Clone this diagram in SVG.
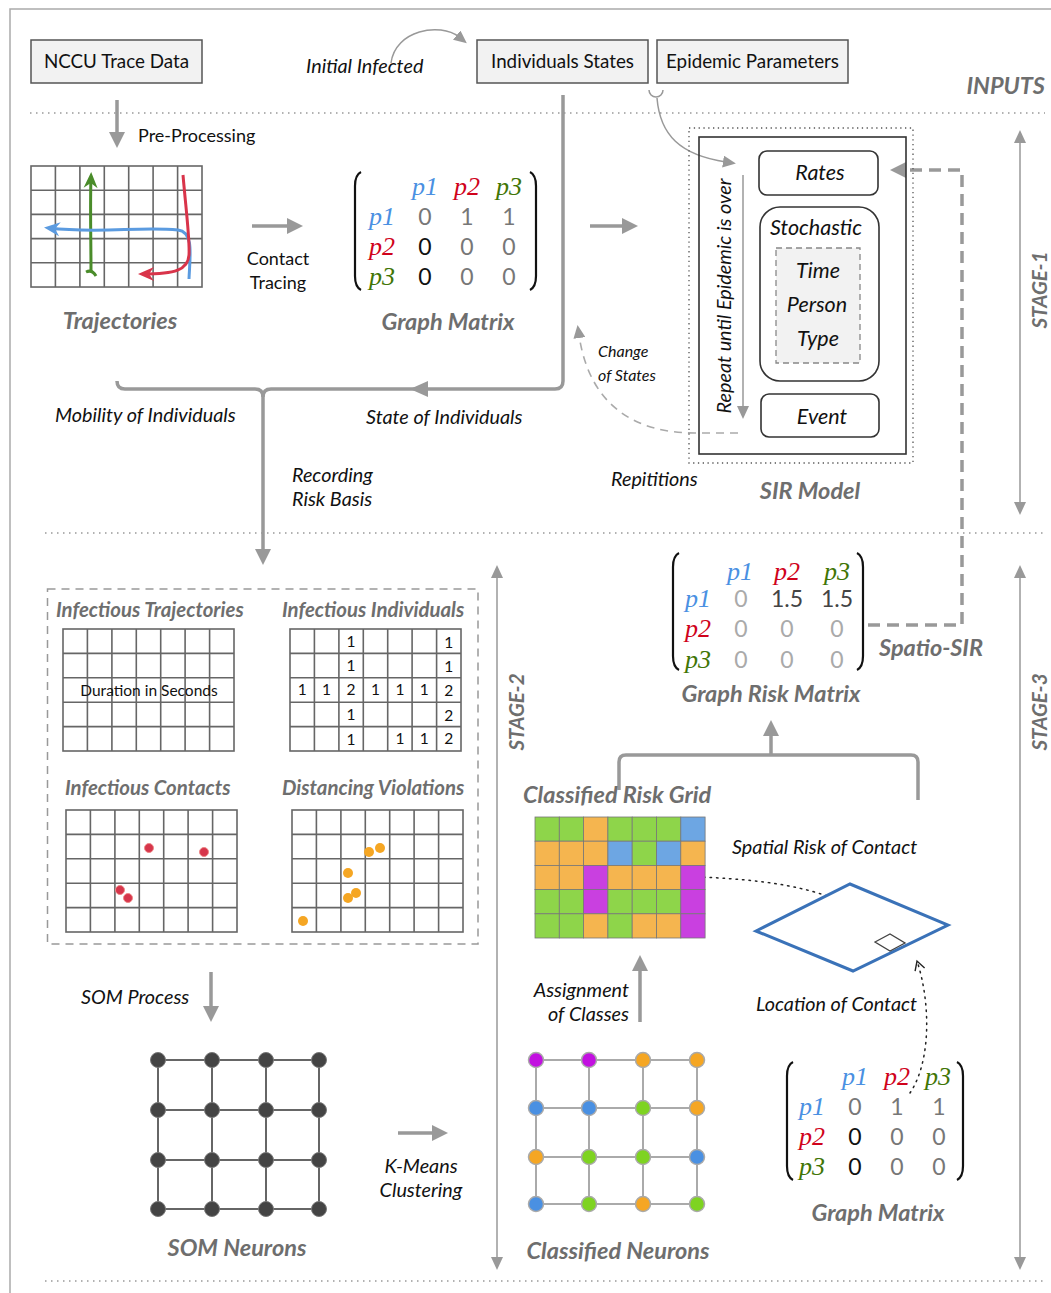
<svg xmlns="http://www.w3.org/2000/svg" width="1051" height="1293" viewBox="0 0 1051 1293">
<style>
text{font-family:Lato,"DejaVu Sans",sans-serif;fill:#111}
.box{fill:#f2f2f2;stroke:#555;stroke-width:1.5}
.bl{font-size:18.8px;text-anchor:middle}
.lbl{font-size:18px}
.it{font-style:italic;font-size:19.8px}
.sm{font-size:16px}
.ttl{font-weight:bold;font-style:italic;fill:#6e6e6e;font-size:23.5px}
.sub{font-size:20.4px}
.stg{font-size:20.5px;text-anchor:middle}
.sir{font-size:21.5px;text-anchor:middle}
.grid{fill:none;stroke:#666;stroke-width:1.6}
.ga{stroke:#999;stroke-width:3.5;fill:none}
.thin{stroke:#999;stroke-width:1.5;fill:none}
.pv{font-family:"Liberation Serif",serif;font-style:italic;font-size:26px;text-anchor:middle}
.num{font-size:23px;text-anchor:middle}
.c1{fill:#4a90e2}.c2{fill:#d0021b}.c3{fill:#417505}
.k7{fill:#777}.ka{fill:#aaa}.k4{fill:#444}
.sep{stroke:#999;stroke-width:1.3;stroke-dasharray:1.5 4.5;fill:none}
.par{fill:none;stroke:#111;stroke-width:2.2}
.G{fill:#8ed54a}.O{fill:#f5b54f}.B{fill:#6da6e3}.M{fill:#c940e0}
.cell rect{stroke:#777;stroke-width:0.8;width:24.3px;height:24.2px}
.dot{stroke:#222;stroke-width:1.5;fill:none;stroke-dasharray:1.5 5;stroke-linecap:round}
.nn{stroke:#666;stroke-width:2;fill:none}
.cn{stroke:#aaa;stroke-width:2;fill:none}
.g15{font-size:15.5px;text-anchor:middle}
</style>
<defs>
<marker id="ga" markerUnits="userSpaceOnUse" markerWidth="16" markerHeight="16" viewBox="0 0 16 16" refX="4" refY="8" orient="auto"><path d="M0 0L16 8L0 16z" fill="#999"/></marker>
<marker id="ta" markerUnits="userSpaceOnUse" markerWidth="13" markerHeight="12" viewBox="0 0 13 12" refX="3" refY="6" orient="auto-start-reverse"><path d="M0 0L13 6L0 12z" fill="#999"/></marker>
<marker id="oa" markerUnits="userSpaceOnUse" markerWidth="12" markerHeight="12" viewBox="0 0 12 12" refX="10" refY="6" orient="auto"><path d="M1 1L10 6L1 11" fill="none" stroke="#222" stroke-width="1.4"/></marker>
<marker id="mg" markerUnits="userSpaceOnUse" markerWidth="16" markerHeight="16" viewBox="0 0 16 16" refX="11" refY="8" orient="auto"><path d="M0 1L16 8L0 15L5 8z" fill="#4a8c2a"/></marker>
<marker id="mb" markerUnits="userSpaceOnUse" markerWidth="16" markerHeight="16" viewBox="0 0 16 16" refX="11" refY="8" orient="auto"><path d="M0 1L16 8L0 15L5 8z" fill="#5b9be0"/></marker>
<marker id="mr" markerUnits="userSpaceOnUse" markerWidth="16" markerHeight="16" viewBox="0 0 16 16" refX="11" refY="8" orient="auto"><path d="M0 1L16 8L0 15L5 8z" fill="#d9344a"/></marker>
<g id="grid" class="grid"><rect width="171" height="122"/><path d="M24.4 0V122M48.9 0V122M73.3 0V122M97.7 0V122M122.1 0V122M146.6 0V122M0 24.4H171M0 48.8H171M0 73.2H171M0 97.6H171"/></g>
</defs>
<rect width="1051" height="1293" fill="#fff"/>
<path d="M10 1293V9H1051" fill="none" stroke="#aaa" stroke-width="1.5"/>
<path class="sep" d="M30 113H1045M45 533H1045M45 1281H1045"/>

<g id="connectors">
<path class="ga" d="M117 100V136" marker-end="url(#ga)"/>
<path class="ga" d="M252 226H291" marker-end="url(#ga)"/>
<path class="ga" d="M590 226H626" marker-end="url(#ga)"/>
<path class="thin" d="M391 63C395 30 440 22 459 37" marker-end="url(#ta)"/>
<path class="thin" d="M649 90A7 7 0 0 0 663 90"/>
<path class="thin" d="M657 98C660 135 680 155 726 162" marker-end="url(#ta)"/>
<path class="ga" d="M117 381Q117 389 125 389H255Q263 389 263 397V553" marker-end="url(#ga)"/>
<path class="ga" d="M563 95V381Q563 389 555 389H271Q263 389 263 397"/>
<path d="M410 389L428 381L428 397z" fill="#999"/>
<path d="M738 433H695C640 433 590 410 579 335" fill="none" stroke="#aaa" stroke-width="1.6" stroke-dasharray="8 6" marker-end="url(#ta)"/>
<path class="thin" d="M743 175V409" marker-end="url(#ta)"/>
<path d="M868 625H962V170H902" fill="none" stroke="#999" stroke-width="3.5" stroke-dasharray="12 7" marker-end="url(#ga)"/>
<path class="thin" d="M1020 140V505" marker-start="url(#ta)" marker-end="url(#ta)"/>
<path class="thin" d="M497 575V1260" marker-start="url(#ta)" marker-end="url(#ta)"/>
<path class="thin" d="M1020 575V1260" marker-start="url(#ta)" marker-end="url(#ta)"/>
<path class="ga" d="M619 790V762Q619 755 626 755H911Q918 755 918 762V800"/>
<path class="ga" d="M771 755V732" marker-end="url(#ga)"/>
<path class="ga" d="M640 1022V967" marker-end="url(#ga)"/>
<path class="ga" d="M211 972V1010" marker-end="url(#ga)"/>
<path class="ga" d="M398 1133H436" marker-end="url(#ga)"/>
<path class="dot" d="M697 877C790 880 845 895 874 923" marker-end="url(#oa)"/>
<path class="dot" d="M910 1093C932 1060 930 1000 917 961" marker-end="url(#oa)"/>
</g>

<g id="inputs">
<text class="it" x="306" y="73">Initial Infected</text>
<text class="ttl" x="1045" y="94" text-anchor="end">INPUTS</text>
</g>
<g id="nccu-trace-data"><rect class="box" x="31" y="40" width="171" height="43"/><text class="bl" x="116.5" y="68">NCCU Trace Data</text></g>
<g id="individuals-states"><rect class="box" x="477" y="40" width="171" height="43"/><text class="bl" x="562.5" y="68">Individuals States</text></g>
<g id="epidemic-parameters"><rect class="box" x="657" y="40" width="191" height="43"/><text class="bl" x="752.5" y="68">Epidemic Parameters</text></g>
<text class="lbl" x="138" y="142">Pre-Processing</text>

<g id="trajectories">
<use href="#grid" transform="translate(31,166) scale(1,0.992)"/>
<path d="M91 271C91 240 90 205 91 177" fill="none" stroke="#4a8c2a" stroke-width="3" marker-end="url(#mg)"/>
<path d="M86 272Q92 269 96 276" fill="none" stroke="#4a8c2a" stroke-width="3"/>
<path d="M189 279C190 255 194 232 178 230C140 226 100 234 49 228" fill="none" stroke="#5b9be0" stroke-width="3" marker-end="url(#mb)"/>
<path d="M183 175C186 210 190 240 189 255C188 270 175 274 143 274" fill="none" stroke="#d9344a" stroke-width="3" marker-end="url(#mr)"/>
<text class="ttl" x="120" y="329" text-anchor="middle">Trajectories</text>
</g>
<text class="lbl" x="278" y="265" text-anchor="middle">Contact</text>
<text class="lbl" x="278" y="289" text-anchor="middle">Tracing</text>

<g id="graph-matrix-top">
<path class="par" d="M361 172Q355 175 355 186V276Q355 287 361 290"/>
<path class="par" d="M530 172Q536 175 536 186V276Q536 287 530 290"/>
<text class="pv c1" x="425" y="195">p1</text><text class="pv c2" x="467" y="195">p2</text><text class="pv c3" x="509" y="195">p3</text>
<text class="pv c1" x="382" y="225">p1</text><text class="pv c2" x="382" y="255">p2</text><text class="pv c3" x="382" y="285">p3</text>
<text class="num k7" x="425" y="225">0</text><text class="num k7" x="467" y="225">1</text><text class="num k7" x="509" y="225">1</text>
<text class="num" x="425" y="255">0</text><text class="num k7" x="467" y="255">0</text><text class="num k7" x="509" y="255">0</text>
<text class="num" x="425" y="285">0</text><text class="num k7" x="467" y="285">0</text><text class="num k7" x="509" y="285">0</text>
<text class="ttl" x="448" y="330" text-anchor="middle">Graph Matrix</text>
</g>

<text class="it" x="55" y="422">Mobility of Individuals</text>
<text class="it" x="366" y="424">State of Individuals</text>
<text class="it" x="292" y="482">Recording</text>
<text class="it" x="292" y="506">Risk Basis</text>
<text class="it sm" x="598" y="357">Change</text>
<text class="it sm" x="598" y="381">of States</text>
<text class="it" x="611" y="486">Repititions</text>

<g id="sir-model">
<rect x="689" y="128" width="224" height="335" fill="none" stroke="#555" stroke-width="1.3" stroke-dasharray="1.3 3.5"/>
<rect x="699" y="137" width="207" height="317" fill="none" stroke="#333" stroke-width="1.6"/>
<text class="it" transform="translate(731,296) rotate(-90)" text-anchor="middle">Repeat until Epidemic is over</text>
<g id="rates"><rect x="759" y="151" width="119" height="44" rx="8" fill="#fff" stroke="#333" stroke-width="1.6"/><text class="it sir" x="820" y="180">Rates</text></g>
<g id="stochastic"><rect x="760" y="207" width="119" height="174" rx="20" fill="#fff" stroke="#333" stroke-width="1.6"/><text class="it sir" x="816" y="235">Stochastic</text>
<rect x="776" y="248" width="84" height="115" fill="#f2f2f2" stroke="#888" stroke-width="1.3" stroke-dasharray="6 4"/>
<text class="it sir" x="818" y="278">Time</text>
<text class="it sir" x="817" y="312">Person</text>
<text class="it sir" x="818" y="346">Type</text></g>
<g id="event"><rect x="761" y="394" width="118" height="43" rx="8" fill="#fff" stroke="#333" stroke-width="1.6"/><text class="it sir" x="822" y="424">Event</text></g>
<text class="ttl" x="810" y="499" text-anchor="middle">SIR Model</text>
</g>
<text class="ttl stg" transform="translate(1047,290) rotate(-90)">STAGE-1</text>
<text class="ttl stg" transform="translate(524,712) rotate(-90)">STAGE-2</text>
<text class="ttl stg" transform="translate(1047,712) rotate(-90)">STAGE-3</text>

<g id="risk-basis">
<rect x="47.5" y="589" width="430.5" height="355" fill="none" stroke="#999" stroke-width="1.5" stroke-dasharray="8 6"/>
<g id="infectious-trajectories">
<text class="ttl sub" x="56" y="617">Infectious Trajectories</text>
<use href="#grid" transform="translate(63,629)"/>
<text x="149" y="696" class="g15">Duration in Seconds</text>
</g>
<g id="infectious-individuals">
<text class="ttl sub" x="282" y="617">Infectious Individuals</text>
<use href="#grid" transform="translate(290,629)"/>
<g class="g15">
<text x="351.1" y="647">1</text><text x="448.8" y="648">1</text>
<text x="351.1" y="671">1</text><text x="448.8" y="672">1</text>
<text x="302.2" y="695">1</text><text x="326.6" y="695">1</text><text x="351.1" y="695">2</text><text x="375.5" y="695">1</text><text x="399.9" y="695">1</text><text x="424.3" y="695">1</text><text x="448.8" y="696">2</text>
<text x="351.1" y="720">1</text><text x="448.8" y="721">2</text>
<text x="351.1" y="745">1</text><text x="399.9" y="744">1</text><text x="424.3" y="744">1</text><text x="448.8" y="744">2</text>
</g>
</g>
<g id="infectious-contacts">
<text class="ttl sub" x="65" y="795">Infectious Contacts</text>
<use href="#grid" transform="translate(66,810)"/>
<g fill="#d6354b" stroke="#e88" stroke-width="1">
<circle cx="149" cy="848" r="4.5"/><circle cx="204" cy="852" r="4.5"/><circle cx="120" cy="890" r="4.5"/><circle cx="128" cy="898" r="4.5"/>
</g>
</g>
<g id="distancing-violations">
<text class="ttl sub" x="282" y="795">Distancing Violations</text>
<use href="#grid" transform="translate(292,810)"/>
<g fill="#f5a623">
<circle cx="369" cy="852" r="5"/><circle cx="380" cy="848" r="5"/><circle cx="348" cy="873" r="5"/><circle cx="356" cy="893" r="5"/><circle cx="348" cy="898" r="5"/><circle cx="303" cy="921" r="5"/>
</g>
</g>
</g>

<g id="graph-risk-matrix">
<path class="par" d="M679 553Q673 556 673 567V656Q673 667 679 670"/>
<path class="par" d="M857 553Q863 556 863 567V656Q863 667 857 670"/>
<text class="pv c1" x="740" y="580">p1</text><text class="pv c2" x="787" y="580">p2</text><text class="pv c3" x="837" y="580">p3</text>
<text class="pv c1" x="698" y="607">p1</text><text class="pv c2" x="698" y="637">p2</text><text class="pv c3" x="698" y="668">p3</text>
<text class="num ka" x="741" y="607">0</text><text class="num k4" x="787" y="607">1.5</text><text class="num k4" x="837" y="607">1.5</text>
<text class="num ka" x="741" y="637">0</text><text class="num ka" x="787" y="637">0</text><text class="num ka" x="837" y="637">0</text>
<text class="num ka" x="741" y="668">0</text><text class="num ka" x="787" y="668">0</text><text class="num ka" x="837" y="668">0</text>
<text class="ttl" x="771" y="702" text-anchor="middle">Graph Risk Matrix</text>
</g>
<text class="ttl" x="879" y="656">Spatio-SIR</text>

<g id="classified-risk-grid">
<text class="ttl" x="523" y="803">Classified Risk Grid</text>
<g class="cell">
<rect class="G" x="535" y="817"/><rect class="G" x="559.3" y="817"/><rect class="O" x="583.6" y="817"/><rect class="G" x="607.9" y="817"/><rect class="G" x="632.2" y="817"/><rect class="G" x="656.5" y="817"/><rect class="B" x="680.8" y="817"/>
<rect class="O" x="535" y="841.2"/><rect class="O" x="559.3" y="841.2"/><rect class="O" x="583.6" y="841.2"/><rect class="B" x="607.9" y="841.2"/><rect class="G" x="632.2" y="841.2"/><rect class="B" x="656.5" y="841.2"/><rect class="O" x="680.8" y="841.2"/>
<rect class="O" x="535" y="865.4"/><rect class="O" x="559.3" y="865.4"/><rect class="M" x="583.6" y="865.4"/><rect class="O" x="607.9" y="865.4"/><rect class="O" x="632.2" y="865.4"/><rect class="O" x="656.5" y="865.4"/><rect class="M" x="680.8" y="865.4"/>
<rect class="G" x="535" y="889.6"/><rect class="G" x="559.3" y="889.6"/><rect class="M" x="583.6" y="889.6"/><rect class="G" x="607.9" y="889.6"/><rect class="G" x="632.2" y="889.6"/><rect class="G" x="656.5" y="889.6"/><rect class="M" x="680.8" y="889.6"/>
<rect class="G" x="535" y="913.8"/><rect class="G" x="559.3" y="913.8"/><rect class="O" x="583.6" y="913.8"/><rect class="G" x="607.9" y="913.8"/><rect class="O" x="632.2" y="913.8"/><rect class="O" x="656.5" y="913.8"/><rect class="M" x="680.8" y="913.8"/>
</g>
</g>
<text class="it" x="732" y="854">Spatial Risk of Contact</text>

<g id="location-of-contact">
<polygon points="756,931 850,884 948,925 853,971" fill="#fff" stroke="#3a72b8" stroke-width="3"/>
<polygon points="875,942 890,934 905,943 890,951" fill="#fff" stroke="#444" stroke-width="1.3"/>
<text class="it" x="756" y="1011">Location of Contact</text>
</g>
<text class="it" x="629" y="997" text-anchor="end">Assignment</text>
<text class="it" x="629" y="1021" text-anchor="end">of Classes</text>
<text class="it" x="81" y="1004">SOM Process</text>
<text class="it" x="421" y="1173" text-anchor="middle">K-Means</text>
<text class="it" x="421" y="1197" text-anchor="middle">Clustering</text>

<g id="som-neurons">
<path class="nn" d="M158 1060H319M158 1110H319M158 1160H319M158 1209H319M158 1060V1209M212 1060V1209M266 1060V1209M319 1060V1209"/>
<g fill="#444" stroke="#777" stroke-width="1">
<circle cx="158" cy="1060" r="7.5"/><circle cx="212" cy="1060" r="7.5"/><circle cx="266" cy="1060" r="7.5"/><circle cx="319" cy="1060" r="7.5"/>
<circle cx="158" cy="1110" r="7.5"/><circle cx="212" cy="1110" r="7.5"/><circle cx="266" cy="1110" r="7.5"/><circle cx="319" cy="1110" r="7.5"/>
<circle cx="158" cy="1160" r="7.5"/><circle cx="212" cy="1160" r="7.5"/><circle cx="266" cy="1160" r="7.5"/><circle cx="319" cy="1160" r="7.5"/>
<circle cx="158" cy="1209" r="7.5"/><circle cx="212" cy="1209" r="7.5"/><circle cx="266" cy="1209" r="7.5"/><circle cx="319" cy="1209" r="7.5"/>
</g>
<text class="ttl" x="237" y="1256" text-anchor="middle">SOM Neurons</text>
</g>

<g id="classified-neurons">
<path class="cn" d="M536 1060H697M536 1108H697M536 1157H697M536 1204H697M536 1060V1204M589 1060V1204M643 1060V1204M697 1060V1204"/>
<g stroke="#aaa" stroke-width="1.5">
<circle cx="536" cy="1060" r="7.5" fill="#c210e0"/><circle cx="589" cy="1060" r="7.5" fill="#c210e0"/><circle cx="643" cy="1060" r="7.5" fill="#f5a623"/><circle cx="697" cy="1060" r="7.5" fill="#f5a623"/>
<circle cx="536" cy="1108" r="7.5" fill="#4a90e2"/><circle cx="589" cy="1108" r="7.5" fill="#4a90e2"/><circle cx="643" cy="1108" r="7.5" fill="#7ed321"/><circle cx="697" cy="1108" r="7.5" fill="#f5a623"/>
<circle cx="536" cy="1157" r="7.5" fill="#f5a623"/><circle cx="589" cy="1157" r="7.5" fill="#7ed321"/><circle cx="643" cy="1157" r="7.5" fill="#7ed321"/><circle cx="697" cy="1157" r="7.5" fill="#4a90e2"/>
<circle cx="536" cy="1204" r="7.5" fill="#4a90e2"/><circle cx="589" cy="1204" r="7.5" fill="#7ed321"/><circle cx="643" cy="1204" r="7.5" fill="#f5a623"/><circle cx="697" cy="1204" r="7.5" fill="#7ed321"/>
</g>
<text class="ttl" x="618" y="1259" text-anchor="middle">Classified Neurons</text>
</g>

<g id="graph-matrix-bottom">
<path class="par" d="M793 1062Q787 1065 787 1076V1166Q787 1177 793 1180"/>
<path class="par" d="M957 1062Q963 1065 963 1076V1166Q963 1177 957 1180"/>
<text class="pv c1" x="855" y="1085">p1</text><text class="pv c2" x="897" y="1085">p2</text><text class="pv c3" x="938" y="1085">p3</text>
<text class="pv c1" x="812" y="1115">p1</text><text class="pv c2" x="812" y="1145">p2</text><text class="pv c3" x="812" y="1175">p3</text>
<text class="num k7" x="855" y="1115">0</text><text class="num k7" x="897" y="1115">1</text><text class="num k7" x="939" y="1115">1</text>
<text class="num" x="855" y="1145">0</text><text class="num k7" x="897" y="1145">0</text><text class="num k7" x="939" y="1145">0</text>
<text class="num" x="855" y="1175">0</text><text class="num k7" x="897" y="1175">0</text><text class="num k7" x="939" y="1175">0</text>
<text class="ttl" x="878" y="1221" text-anchor="middle">Graph Matrix</text>
</g>
</svg>
